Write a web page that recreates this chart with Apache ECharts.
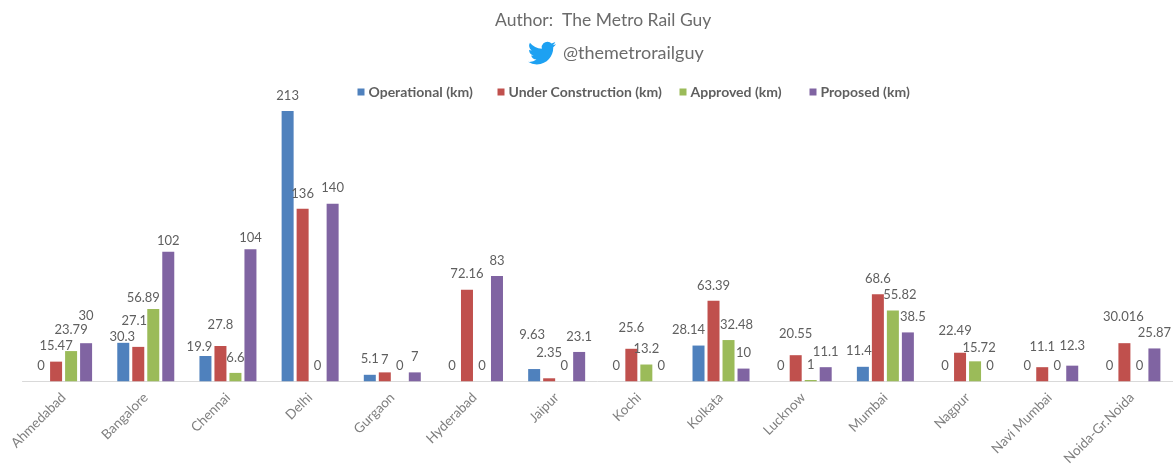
<!DOCTYPE html>
<html>
<head>
<meta charset="utf-8">
<style>
html,body{margin:0;padding:0;background:#fff;}
#chart_id{width:1173px;height:468px;filter:blur(0.6px);}
</style>
<script src="https://cdn.jsdelivr.net/npm/echarts@6/dist/echarts.min.js"></script>
</head>
<body>
<div id="chart_id"></div>
<script>
const cities = ['Ahmedabad','Bangalore','Chennai','Delhi','Gurgaon','Hyderabad','Jaipur','Kochi','Kolkata','Lucknow','Mumbai','Nagpur','Navi Mumbai','Noida-Gr.Noida'];
const operational = [0,30.3,19.9,213,5.1,0,9.63,0,28.14,0,11.4,0,0,0];
const underConstruction = [15.47,27.1,27.8,136,7,72.16,2.35,25.6,63.39,20.55,68.6,22.49,11.1,30.016];
const approved = [23.79,56.89,6.6,0,0,0,0,13.2,32.48,1,55.82,15.72,0,0];
const proposed = [30,102,104,140,7,83,23.1,0,10,11.1,38.5,0,12.3,25.87];

const names = ['Operational (km)','Under Construction (km)','Approved (km)','Proposed (km)'];
const colors = ['#4f81bd','#c0504d','#9bbb59','#8064a2'];
const textColor = '#5f5f5f';
const legendLeft = [352.5, 492.5, 674.5, 804.5];

// hand placed data labels, the original chart moved these off the bars: city index -> [dx, dy]
const labelNudges = [
  { 1: [-1, 9], 2: [-6, 6], 6: [-2, -19], 8: [-10, 0], 10: [-4, 0] },
  { 1: [-4, -11], 2: [0, -6], 3: [0, 1], 4: [0, 3], 6: [0, -10], 7: [0, -5], 9: [0, -6], 11: [-5, -6], 12: [0, -5], 13: [-1, -11] },
  { 0: [0, -6], 1: [-10, 4], 8: [8, 0], 10: [7, 0], 11: [4, 2] },
  { 0: [0, -12], 1: [0, 4], 2: [0, 4], 10: [5, 0], 12: [0, -4] }
];

const birdPath = 'M23.95 4.57a10 10 0 0 1-2.82.77 4.96 4.96 0 0 0 2.16-2.72 9.9 9.9 0 0 1-3.12 1.18 4.92 4.92 0 0 0-8.38 4.48A13.98 13.98 0 0 1 1.64 3.16a4.92 4.92 0 0 0 1.52 6.57 4.9 4.9 0 0 1-2.23-.62v.06a4.92 4.92 0 0 0 3.95 4.83 5 5 0 0 1-2.21.08 4.94 4.94 0 0 0 4.6 3.42A9.87 9.87 0 0 1 0 19.54a14 14 0 0 0 7.56 2.21c9.05 0 14-7.5 14-13.98 0-.21 0-.42-.02-.63a9.94 9.94 0 0 0 2.46-2.55z';
echarts.graphic.registerShape('bird', echarts.graphic.extendPath(birdPath, {}));

const chart = echarts.init(document.getElementById('chart_id'));

function makeSeries(i, values) {
  return {
    name: names[i],
    type: 'bar',
    data: values.map((v, k) => {
      const nudge = labelNudges[i][k];
      return nudge ? { value: v, label: { offset: nudge } } : { value: v };
    }),
    barWidth: 12,
    barGap: '25%',
    itemStyle: { color: colors[i] },
    label: {
      show: true,
      position: 'top',
      distance: 9,
      color: textColor,
      fontFamily: 'Lato',
      fontSize: 13
    }
  };
}

chart.setOption({
  animation: false,
  grid: { left: 22.5, right: -2, top: 111, bottom: 85 },
  legend: names.map((n, i) => ({
    data: [n],
    top: 80,
    left: legendLeft[i],
    icon: 'rect',
    itemWidth: 7,
    itemHeight: 7,
    itemGap: 0,
    textStyle: { color: textColor, fontFamily: 'Lato', fontSize: 14, fontWeight: 'bold', padding: [0,0,0,-1] }
  })),
  xAxis: {
    type: 'category',
    data: cities,
    axisTick: { show: false },
    axisLine: { lineStyle: { color: '#d9d9d9', width: 1 } },
    axisLabel: { rotate: 45, interval: 0, margin: 14, color: '#7f7f7f', fontFamily: 'Lato', fontSize: 13.5 }
  },
  yAxis: { type: 'value', show: false, min: 0, max: 213, splitLine: { show: false } },
  graphic: [
    { type: 'text', left: 495, top: 11, style: { text: 'Author:  The Metro Rail Guy', fill: '#6b6b6b', font: '17.5px Lato' } },
    { type: 'text', left: 563, top: 44, style: { text: '@themetrorailguy', fill: '#6b6b6b', font: '18px Lato' } },
    { type: 'bird', x: 528, y: 39, scaleX: 1.17, scaleY: 1.17, style: { fill: '#1da1f2' } }
  ],
  series: [
    makeSeries(0, operational),
    makeSeries(1, underConstruction),
    makeSeries(2, approved),
    makeSeries(3, proposed)
  ]
});
</script>
</body>
</html>
